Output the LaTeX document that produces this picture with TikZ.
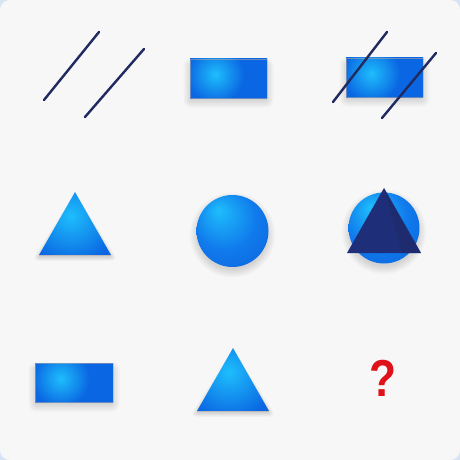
\documentclass[tikz,border=0pt]{standalone}
\usepackage{fontspec}
\newfontfamily\qfont{Liberation Sans}
\definecolor{bgc}{RGB}{247,247,248}
\definecolor{edgec}{RGB}{214,228,244}
\definecolor{base}{RGB}{10,102,226}
\definecolor{hl}{RGB}{30,190,252}
\definecolor{sphb}{RGB}{16,122,236}
\definecolor{dk}{RGB}{10,88,212}
\definecolor{navy}{RGB}{32,42,96}
\definecolor{dtri}{RGB}{30,46,120}
\definecolor{qred}{RGB}{222,18,24}
\definecolor{rim}{RGB}{200,175,155}
\pgfdeclareradialshading{sph}{\pgfpoint{-10bp}{15bp}}{color(0bp)=(hl); color(22bp)=(sphb); color(50bp)=(dk)}
\pgfdeclareradialshading{rglow}{\pgfpoint{0bp}{0bp}}{color(0bp)=(hl); color(12bp)=(base); color(50bp)=(base)}
\pgfdeclareradialshading{tglow}{\pgfpoint{0bp}{0bp}}{color(0bp)=(hl); color(16bp)=(base); color(50bp)=(dk)}
\tikzset{
  stroke/.style={draw=navy, line width=2.4pt, line cap=round},
  softsh/.style={fill=black, fill opacity=0.022},
  rimline/.style={draw=rim, draw opacity=0.5, line width=0.4pt},
}
\newcommand{\bluerect}[5]{% name x1 y1 x2 y2
  \foreach \d in {0,1.5,...,7.5}{
    \fill[softsh, rounded corners=\d pt] ({#2-\d+1},{#3-\d+7}) rectangle ({#4+\d-1},{#5+\d+2});
  }
  \begin{scope}
    \clip (#2,#3) rectangle (#4,#5);
    \shade[shading=rglow] ({#2+0.33*(#4-#2)},{#3+0.4*(#5-#3)}) circle (60);
  \end{scope}
  \path[rimline] (#2,#3) rectangle (#4,#5);
  \coordinate (#1) at ({(#2+#4)/2},{(#3+#5)/2});
}
\newcommand{\bluetri}[3]{% name apexx apexy
  \foreach \d in {0,1.5,...,7.5}{
    \fill[softsh, rounded corners=\d pt] (#2,{#3+8-\d}) -- ({#2-36-\d},{#3+65+\d*0.5}) -- ({#2+36+\d},{#3+65+\d*0.5}) -- cycle;
  }
  \begin{scope}
    \clip (#2,#3) -- ({#2-36},{#3+63}) -- ({#2+36},{#3+63}) -- cycle;
    \shade[shading=tglow] ({#2-4},{#3+24}) circle (75);
  \end{scope}
  \path[draw=rim, draw opacity=0.5, line width=0.4pt] ({#2-36},{#3+63}) -- ({#2+36},{#3+63});
  \coordinate (#1) at (#2,{#3+40});
}
\newcommand{\bluesph}[4]{% name cx cy r
  \foreach \d in {0,1.5,...,7.5}{
    \fill[softsh] (#2,{#3+4}) circle ({#4-1+\d});
  }
  \shade[shading=sph] (#2,#3) circle (#4);
  \node[circle, minimum size=2*#4 pt, inner sep=0pt] (#1) at (#2,#3) {};
}
\begin{document}
\begin{tikzpicture}[x=1pt,y=-1pt]
\useasboundingbox (0,0) rectangle (460,460);
\fill[edgec] (0,0) rectangle (460,460);
\fill[bgc] (0,0) [rounded corners=10pt] rectangle (460,460);
% ---------- row 1 ----------
\coordinate (l1a) at (44,100); \coordinate (l1b) at (99,32);
\coordinate (l2a) at (85,117); \coordinate (l2b) at (144,49);
\draw[stroke] (l1a) -- (l1b);
\draw[stroke] (l2a) -- (l2b);
\bluerect{r12}{190}{59}{267}{98}
\bluerect{r13}{346}{58}{423}{97}
\coordinate (l3a) at (333,102); \coordinate (l3b) at (387,32);
\coordinate (l4a) at (382,118); \coordinate (l4b) at (436,53);
\draw[stroke] (l3a) -- (l3b);
\draw[stroke] (l4a) -- (l4b);
% ---------- row 2 ----------
\bluetri{t21}{75}{192}
\bluesph{c22}{232.5}{231}{36}
\bluesph{c23}{384}{228}{35.5}
\fill[dtri] (384,188) -- (347,253) -- (421,253) -- cycle;
\fill[navy, opacity=0.35] (384,188) -- (402,253) -- (421,253) -- cycle;
% ---------- row 3 ----------
\bluerect{r31}{35}{363}{113}{402}
\bluetri{t32}{233}{348}
\node[text=qred, font=\qfont\bfseries\fontsize{52}{52}\selectfont, inner sep=0pt, xscale=0.85] (q) at (382.5,378) {?};
\end{tikzpicture}
\end{document}
